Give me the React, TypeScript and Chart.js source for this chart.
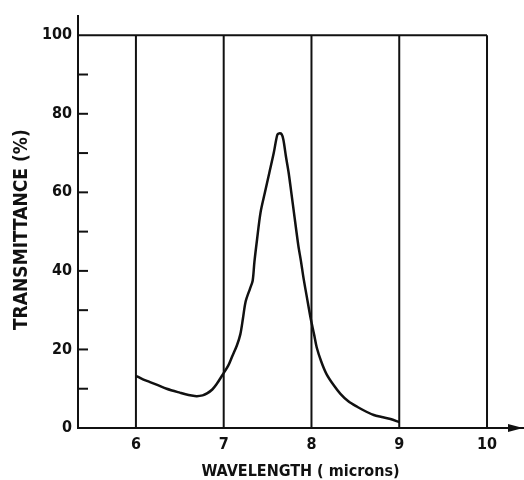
import React, { useEffect, useRef } from "react";
import { Chart, registerables } from "chart.js";

Chart.register(...registerables);

// Data
const wavelength = [
  6.0, 6.08, 6.16, 6.25, 6.35, 6.5, 6.6, 6.69, 6.76, 6.81, 6.87, 6.92, 6.98,
  7.05, 7.1, 7.15, 7.19, 7.22, 7.25, 7.3, 7.33, 7.35, 7.38, 7.42, 7.47, 7.52,
  7.57, 7.61, 7.63, 7.66, 7.68, 7.71, 7.74, 7.77, 7.8, 7.85, 7.88, 7.91, 7.95,
  7.99, 8.03, 8.06, 8.11, 8.17, 8.25, 8.33, 8.42, 8.52, 8.62, 8.71, 8.8, 8.9,
  9.0,
];
const transmittance = [
  13.3, 12.4, 11.7, 10.9, 10.0, 9.0, 8.4, 8.1, 8.3, 8.8, 9.8, 11.2, 13.3, 15.8,
  18.4, 21.0, 23.9, 28.0, 32.2, 35.5, 37.5, 42.3, 48.0, 54.9, 60.0, 65.0, 70.0,
  74.6, 75.0, 74.8, 73.4, 69.0, 65.0, 60.0, 54.9, 46.5, 42.5, 38.1, 33.0, 28.0,
  23.8, 20.5, 17.0, 13.8, 11.0, 8.7, 6.8, 5.4, 4.2, 3.3, 2.8, 2.3, 1.5,
];
const gridWavelengths = [6, 7, 8, 9, 10];
const xTickValues = [6, 7, 8, 9, 10];
const yTickValues = [0, 20, 40, 60, 80, 100];
const yMinorTicks = [10, 20, 30, 40, 50, 60, 70, 80, 90];
const frameTop = 100;
const xMin = 5.34;
const xMax = 10.41;
const yMin = 0;
const yMax = 105;
const xTitle = "WAVELENGTH ( microns)";
const yTitle = "TRANSMITTANCE (%)";

const FONT = "'Liberation Sans Narrow', 'DejaVu Sans Condensed', 'Liberation Sans', sans-serif";
const INK = "#111";

const decorPlugin = {
  id: "decor",
  afterDraw(chart: any) {
    const { ctx } = chart;
    const xs = chart.scales.x;
    const ys = chart.scales.y;
    ctx.save();
    ctx.strokeStyle = INK;
    ctx.fillStyle = INK;
    ctx.lineWidth = 2;
    // inward y tick marks
    for (const v of yMinorTicks) {
      const py = ys.getPixelForValue(v);
      ctx.beginPath();
      ctx.moveTo(xs.left, py);
      ctx.lineTo(xs.left + 10, py);
      ctx.stroke();
    }
    // arrow at end of x axis
    const py0 = ys.getPixelForValue(0);
    const tip = xs.getPixelForValue(xMax);
    ctx.beginPath();
    ctx.moveTo(tip, py0);
    ctx.lineTo(tip - 15, py0 - 4);
    ctx.lineTo(tip - 15, py0 + 4);
    ctx.closePath();
    ctx.fill();
    // y axis title
    ctx.translate(22, ys.getPixelForValue(50.5));
    ctx.rotate(-Math.PI / 2);
    ctx.font = `bold 19px ${FONT}`;
    ctx.textAlign = "center";
    ctx.textBaseline = "middle";
    ctx.fillText(yTitle, 0, 0);
    ctx.restore();
  },
};

export default function App() {
  const ref = useRef<HTMLCanvasElement | null>(null);

  useEffect(() => {
    if (!ref.current) return;
    const curve = wavelength.map((x, i) => ({ x, y: transmittance[i] }));
    const verticals = gridWavelengths.map((x) => ({
      type: "line" as const,
      data: [
        { x, y: yMin },
        { x, y: frameTop },
      ],
      borderColor: INK,
      borderWidth: 2,
      pointRadius: 0,
      tension: 0,
    }));
    const topLine = {
      type: "line" as const,
      data: [
        { x: xMin, y: frameTop },
        { x: gridWavelengths[gridWavelengths.length - 1], y: frameTop },
      ],
      borderColor: INK,
      borderWidth: 2,
      pointRadius: 0,
      tension: 0,
    };
    const chart = new Chart(ref.current, {
      type: "line",
      data: {
        datasets: [
          ...verticals,
          topLine,
          {
            data: curve,
            borderColor: INK,
            borderWidth: 2.5,
            pointRadius: 0,
            tension: 0.3,
          },
        ] as any,
      },
      plugins: [decorPlugin],
      options: {
        animation: false,
        responsive: false,
        maintainAspectRatio: false,
        layout: { padding: { left: 0, right: 1, top: 12, bottom: 0 } },
        plugins: {
          legend: { display: false },
          tooltip: { enabled: false },
        },
        scales: {
          x: {
            type: "linear",
            min: xMin,
            max: xMax,
            afterBuildTicks: (s: any) => {
              s.ticks = xTickValues.map((v) => ({ value: v }));
            },
            afterFit: (s: any) => {
              s.height = 52;
            },
            grid: { display: false, drawTicks: false },
            border: { display: true, color: INK, width: 2 },
            ticks: {
              color: INK,
              padding: 7,
              font: { family: FONT, size: 16, weight: "bold" },
              callback: (v: any) => String(v),
            },
            title: {
              display: true,
              text: xTitle,
              color: INK,
              font: { family: FONT, size: 16, weight: "bold", lineHeight: 1 },
              padding: { top: 0, bottom: 0 },
            },
          },
          y: {
            type: "linear",
            min: yMin,
            max: yMax,
            afterBuildTicks: (s: any) => {
              s.ticks = yTickValues.map((v) => ({ value: v }));
            },
            afterFit: (s: any) => {
              s.width = 78;
            },
            grid: { display: false, drawTicks: false },
            border: { display: true, color: INK, width: 2 },
            ticks: {
              color: INK,
              padding: 6,
              font: { family: FONT, size: 16, weight: "bold" },
              callback: (v: any) => String(v),
            },
            title: { display: false },
          },
        },
      },
    });
    return () => chart.destroy();
  }, []);

  return (
    <div style={{ position: "fixed", left: 0, top: 0, width: 524, height: 480, background: "#fff" }}>
      <canvas ref={ref} width={524} height={480} style={{ display: "block" }} />
    </div>
  );
}
